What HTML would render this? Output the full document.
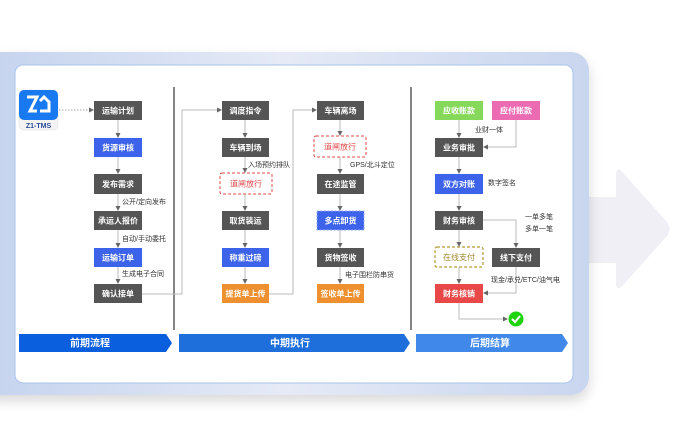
<!DOCTYPE html>
<html><head><meta charset="utf-8"><style>
html,body{margin:0;padding:0;background:#fff;width:683px;height:441px;overflow:hidden}
text{font-family:"Liberation Sans","Noto Sans CJK SC",sans-serif}
.n{fill:#fff;font-size:8px;text-anchor:middle;font-weight:bold}
.l{fill:#333;font-size:7px}
.ln{stroke:#bbb;stroke-width:1;fill:none}
</style></head><body>
<svg width="683" height="441" viewBox="0 0 683 441" xmlns="http://www.w3.org/2000/svg">
<defs>
<linearGradient id="fr" x1="0" y1="0" x2="1" y2="0"><stop offset="0" stop-color="#c4d3ee"/><stop offset="0.5" stop-color="#e6eaf6"/><stop offset="1" stop-color="#c9d6ef"/></linearGradient>
<filter id="sh" x="-10%" y="-10%" width="120%" height="130%"><feDropShadow dx="0" dy="6" stdDeviation="6" flood-color="#000" flood-opacity="0.15"/></filter>
<marker id="ar" markerWidth="5" markerHeight="5" refX="4" refY="2.5" orient="auto"><path d="M0,0 L5,2.5 L0,5z" fill="#666"/></marker>
</defs>
<!-- big right arrow -->
<path d="M585,197 L616,197 L616,176 Q616,164 624,174 L667,222 Q672,229 667,236 L624,284 Q616,294 616,282 L616,263 L585,263 Z" fill="#efeff5"/>
<!-- card -->
<rect x="-20" y="52" width="609" height="343" rx="18" fill="url(#fr)" filter="url(#sh)"/>
<rect x="15" y="65" width="558" height="318" rx="8" fill="#fff" stroke="#a9c4ea" stroke-width="1"/>
<!-- separators -->
<line x1="174" y1="87" x2="174" y2="330" stroke="#333" stroke-width="1.2"/>
<line x1="411" y1="87" x2="411" y2="330" stroke="#333" stroke-width="1.2"/>
<!-- logo -->
<rect x="19" y="90" width="39" height="40" rx="5" fill="#f3f3f3" stroke="#ddd" stroke-width="0.5"/>
<rect x="19" y="90" width="39" height="30" rx="5" fill="#1979f0"/>
<path d="M27,97 L37,97 L30,111 L37,111 M40,111 L49,111 L49,102 L44,97 L40,101" stroke="#fff" stroke-width="3" fill="none"/>
<text x="38.5" y="128" font-size="7" font-weight="bold" fill="#2a4c9a" text-anchor="middle">Z1-TMS</text>
<line x1="59" y1="110" x2="93" y2="110" stroke="#aaa" stroke-dasharray="1.5,1.5" marker-end="url(#ar)"/>
<!-- column 1 connectors -->
<g class="ln" marker-end="url(#ar)">
<line x1="118" y1="120" x2="118" y2="137"/><line x1="118" y1="157" x2="118" y2="173"/><line x1="118" y1="194" x2="118" y2="210"/><line x1="118" y1="230" x2="118" y2="247"/><line x1="118" y1="267" x2="118" y2="283"/>
<polyline points="142,294 182,294 182,110 221,110"/>
<line x1="245" y1="120" x2="245" y2="137"/><line x1="245" y1="157" x2="245" y2="172"/><line x1="245" y1="194" x2="245" y2="210"/><line x1="245" y1="230" x2="245" y2="247"/><line x1="245" y1="267" x2="245" y2="283"/>
<polyline points="269,294 293,294 293,110 316,110"/>
<line x1="340" y1="120" x2="340" y2="135"/><line x1="340" y1="157" x2="340" y2="173"/><line x1="340" y1="194" x2="340" y2="210"/><line x1="340" y1="230" x2="340" y2="247"/><line x1="340" y1="267" x2="340" y2="283"/>
<line x1="459" y1="120" x2="459" y2="137"/><polyline points="516,120 516,147 484,147"/>
<line x1="459" y1="157" x2="459" y2="173"/><line x1="459" y1="194" x2="459" y2="210"/>
<line x1="459" y1="230" x2="459" y2="246"/><polyline points="483,220 516,220 516,247"/>
<line x1="459" y1="267" x2="459" y2="283"/><polyline points="516,267 516,293 484,293"/>
<polyline points="459,303 459,319 507,319"/>
</g>
<!-- nodes col1 -->
<rect x="94" y="101" width="48" height="19" fill="#555"/><text class="n" x="118" y="113.5">运输计划</text>
<rect x="94" y="138" width="48" height="19" fill="#3d63ea"/><text class="n" x="118" y="150.5">货源审核</text>
<rect x="94" y="174" width="48" height="20" fill="#555"/><text class="n" x="118" y="187">发布需求</text>
<rect x="94" y="211" width="48" height="19" fill="#555"/><text class="n" x="118" y="223.5">承运人报价</text>
<rect x="94" y="248" width="48" height="19" fill="#3d63ea"/><text class="n" x="118" y="260.5">运输订单</text>
<rect x="94" y="284" width="48" height="19" fill="#555"/><text class="n" x="118" y="296.5">确认接单</text>
<text class="l" x="122" y="204">公开/定向发布</text>
<text class="l" x="122" y="241">自动/手动委托</text>
<text class="l" x="122" y="276">生成电子合同</text>
<!-- col2 -->
<rect x="222" y="101" width="47" height="19" fill="#555"/><text class="n" x="245.5" y="113.5">调度指令</text>
<rect x="222" y="138" width="47" height="19" fill="#555"/><text class="n" x="245.5" y="150.5">车辆到场</text>
<rect x="220" y="173" width="52" height="21" rx="2" fill="#fff" stroke="#e04848" stroke-dasharray="3,2"/><text class="n" x="246" y="186.5" fill="#e04848" style="fill:#e04848;font-weight:normal">道闸放行</text>
<rect x="222" y="211" width="47" height="19" fill="#555"/><text class="n" x="245.5" y="223.5">取货装运</text>
<rect x="222" y="248" width="47" height="19" fill="#3d63ea"/><text class="n" x="245.5" y="260.5">称重过磅</text>
<rect x="222" y="284" width="47" height="19" fill="#ef9030"/><text class="n" x="245.5" y="296.5">提货单上传</text>
<text class="l" x="248" y="167">入场预约排队</text>
<!-- col3 -->
<rect x="317" y="101" width="47" height="19" fill="#555"/><text class="n" x="340.5" y="113.5">车辆离场</text>
<rect x="314" y="136" width="52" height="21" rx="2" fill="#fff" stroke="#e04848" stroke-dasharray="3,2"/><text class="n" x="340" y="149.5" style="fill:#e04848;font-weight:normal">道闸放行</text>
<rect x="317" y="174" width="47" height="20" fill="#555"/><text class="n" x="340.5" y="187">在途监管</text>
<rect x="317" y="211" width="47" height="19" fill="#3d63ea" stroke="#8fa8f5" stroke-dasharray="2,1.5"/><text class="n" x="340.5" y="223.5">多点卸货</text>
<rect x="317" y="248" width="47" height="19" fill="#555"/><text class="n" x="340.5" y="260.5">货物签收</text>
<rect x="317" y="284" width="47" height="19" fill="#ef9030"/><text class="n" x="340.5" y="296.5">签收单上传</text>
<text class="l" x="350" y="167">GPS/北斗定位</text>
<text class="l" x="345" y="277">电子围栏防串货</text>
<!-- col4 -->
<rect x="435" y="101" width="48" height="19" fill="#86d85a"/><text class="n" x="459" y="113.5">应收账款</text>
<rect x="492" y="101" width="48" height="19" fill="#ec6cb4"/><text class="n" x="516" y="113.5">应付账款</text>
<text class="l" x="475" y="132">业财一体</text>
<rect x="435" y="138" width="48" height="19" fill="#555"/><text class="n" x="459" y="150.5">业务审批</text>
<rect x="435" y="174" width="48" height="20" fill="#3d63ea"/><text class="n" x="459" y="187">双方对账</text>
<text class="l" x="488" y="185">数字签名</text>
<rect x="435" y="211" width="48" height="19" fill="#555"/><text class="n" x="459" y="223.5">财务审核</text>
<text class="l" x="525" y="219">一单多笔</text>
<text class="l" x="525" y="231">多单一笔</text>
<rect x="435" y="247" width="48" height="20" rx="2" fill="#fff" stroke="#b49a35" stroke-width="1.2" stroke-dasharray="3,2"/><text class="n" x="459" y="260" style="fill:#a08a30;font-weight:normal">在线支付</text>
<rect x="492" y="248" width="48" height="19" fill="#555"/><text class="n" x="516" y="260.5">线下支付</text>
<text class="l" x="491" y="282">现金/承兑/ETC/油气电</text>
<rect x="435" y="284" width="48" height="19" fill="#e84848"/><text class="n" x="459" y="296.5">财务核销</text>
<circle cx="516" cy="319" r="7.5" fill="#1fd30f"/>
<path d="M512,319 L515,322 L520,316" stroke="#fff" stroke-width="2" fill="none"/>
<!-- banners -->
<path d="M19,334 L166,334 L172,343 L166,352 L19,352 Z" fill="#0a5fdf"/>
<text x="90" y="346.5" font-size="10" font-weight="bold" fill="#fff" text-anchor="middle">前期流程</text>
<path d="M179,334 L404,334 L410,343 L404,352 L179,352 Z" fill="#1e6fdc"/>
<text x="290" y="346.5" font-size="10" font-weight="bold" fill="#fff" text-anchor="middle">中期执行</text>
<path d="M416,334 L562,334 L568,343 L562,352 L416,352 Z" fill="#4088ea"/>
<text x="490" y="346.5" font-size="10" font-weight="bold" fill="#fff" text-anchor="middle">后期结算</text>
</svg>
</body></html>
